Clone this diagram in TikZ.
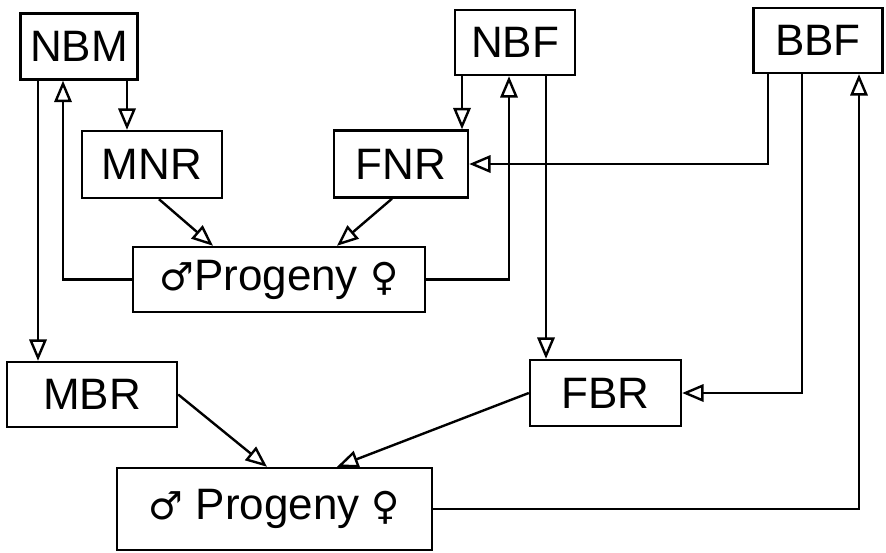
\documentclass[tikz,border=0pt]{standalone}
\usepackage{fontspec}
\setmainfont{Liberation Sans}
\newfontfamily\symfont{DejaVu Sans}
\usetikzlibrary{arrows.meta,calc}

\begin{document}
\begin{tikzpicture}[x=0.75pt,y=-0.75pt,
  box/.style={draw,line width=1.8pt,inner sep=0pt,font=\fontsize{33}{36}\selectfont},
  wh/.style 2 args={minimum width=#1*0.75pt,minimum height=#2*0.75pt},
  link/.style={line width=1.8pt,-{Triangle[open,length=16pt,width=13pt,line width=1.8pt]}}]
  \useasboundingbox (0,0) rectangle (886,553);
  \node[box,wh={117}{66}] (NBM) at (79,46.5) {NBM};
  \node[box,wh={140}{67}] (MNR) at (152,164.5) {MNR};
  \node[box,wh={134}{67}] (FNR) at (401,164) {FNR};
  \node[box,wh={120}{65}] (NBF) at (515,42.5) {NBF};
  \node[box,wh={129}{65}] (BBF) at (818,40.5) {BBF};
  \node[box,wh={292}{65}] (PRa) at (279,279.5) {{\symfont\fontsize{29}{36}\selectfont ♂}Progeny {\symfont\fontsize{29}{36}\selectfont ♀}};
  \node[box,wh={170}{65}] (MBR) at (92,394.5) {MBR};
  \node[box,wh={151}{66}] (FBR) at (605.5,393) {FBR};
  \node[box,wh={315}{82}] (PRb) at (274.5,509) {{\symfont\fontsize{29}{36}\selectfont ♂} Progeny {\symfont\fontsize{29}{36}\selectfont ♀}};
  \coordinate (c1) at (127,0);
  \coordinate (c2) at (63,0);
  \coordinate (c3) at (38,0);
  \coordinate (c4) at (462,0);
  \coordinate (c5) at (509,0);
  \coordinate (c6) at (546,0);
  \coordinate (c7) at (768,0);
  \coordinate (c8) at (802,0);
  \coordinate (c9) at (859,0);
  \draw[link] (NBM.south -| c1) -- (MNR.north -| c1);
  \draw[link] (PRa.west) -| (c2 |- NBM.south);
  \draw[link] (NBM.south -| c3) -- (MBR.north -| c3);
  \draw[link] ($(MNR.south)+(7,0)$) -- ($(PRa.north)+(-66,0)$);
  \draw[link] ($(FNR.south)+(-9,0)$) -- ($(PRa.north)+(58,0)$);
  \draw[link] (NBF.south -| c4) -- (FNR.north -| c4);
  \draw[link] (PRa.east) -| (c5 |- NBF.south);
  \draw[link] (NBF.south -| c6) -- (FBR.north -| c6);
  \draw[link] (BBF.south -| c7) |- (FNR.east);
  \draw[link] (BBF.south -| c8) |- (FBR.east);
  \draw[link] (PRb.east) -| (c9 |- BBF.south);
  \draw[link] (MBR.east) -- ($(PRb.north)+(-7.5,0)$);
  \draw[link] (FBR.west) -- ($(PRb.north)+(62.5,0)$);
\end{tikzpicture}
\end{document}
